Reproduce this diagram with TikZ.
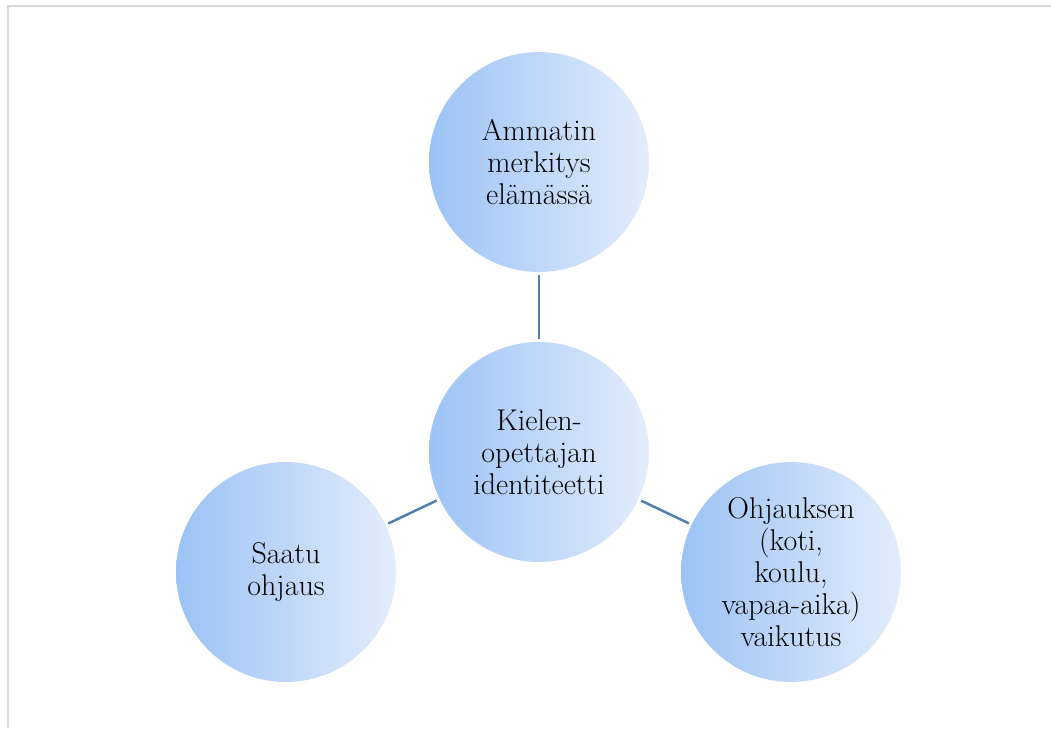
\documentclass[tikz,border=0pt]{standalone}
\begin{document}
\begin{tikzpicture}[x=1pt,y=-1pt,
  bubble/.style={circle, minimum size=220pt, inner sep=0pt, align=center,
    left color=cL, right color=cR, draw=none,
    font=\fontsize{30}{32}\selectfont},
  link/.style={draw=lk, line width=2.5pt, shorten >=3pt, shorten <=3pt}]
\definecolor{cL}{HTML}{9CC2F5}
\definecolor{cR}{HTML}{E3EDFB}
\definecolor{lk}{HTML}{4F80AE}
\definecolor{fr}{HTML}{D9D9D9}
\useasboundingbox (0,0) rectangle (1051,728);
\draw[fr, line width=2pt] (8,728) -- (8,6) -- (1051,6);
\node[bubble] (top) at (539,162) {Ammatin\\merkitys\\elämässä};
\node[bubble] (mid) at (539,452) {Kielen-\\opettajan\\identiteetti};
\node[bubble] (lft) at (286,572) {Saatu\\ohjaus};
\node[bubble] (rgt) at (791,572) {Ohjauksen\\(koti,\\koulu,\\vapaa-aika)\\vaikutus};
\draw[link] (top) -- (mid);
\draw[link] (lft) -- (mid);
\draw[link] (rgt) -- (mid);
\end{tikzpicture}
\end{document}
